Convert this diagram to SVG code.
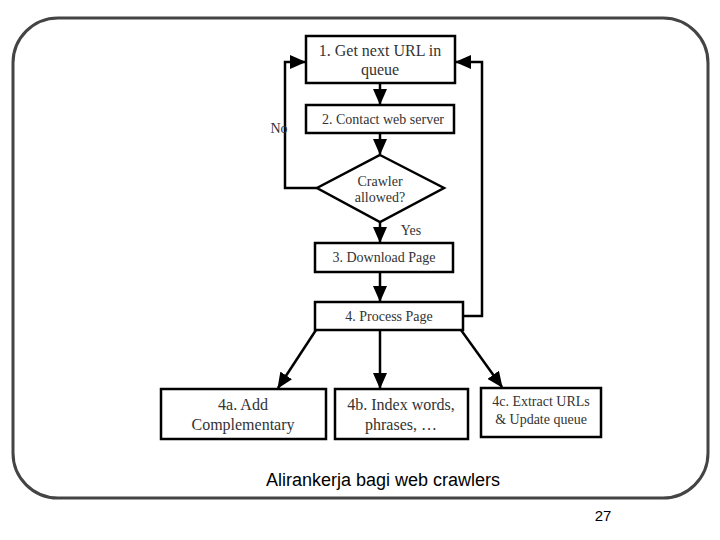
<svg xmlns="http://www.w3.org/2000/svg" width="720" height="540" viewBox="0 0 720 540">
<style>
.b{fill:#fff;stroke:#000;stroke-width:2.5}
.t{font-family:"Liberation Serif",serif;fill:#333;text-anchor:middle}
.c{stroke:#000;stroke-width:2.5;fill:none}
</style>
<defs><marker id="m" markerWidth="16" markerHeight="14" refX="15" refY="7" orient="auto" markerUnits="userSpaceOnUse" viewBox="0 0 16 14"><path d="M0,0L16,7L0,14z" fill="#000"/></marker></defs>
<rect x="13" y="18" width="695" height="480" rx="45" fill="#fff" stroke="#444" stroke-width="3"/>
<g id="connectors">
<path class="c" d="M380,83V104" marker-end="url(#m)"/>
<path class="c" d="M380,133V154" marker-end="url(#m)"/>
<path class="c" d="M380,222V242" marker-end="url(#m)"/>
<path class="c" d="M380,272V301" marker-end="url(#m)"/>
<path class="c" d="M317,188H285V62H305" marker-end="url(#m)"/>
<path class="c" d="M463,316H482V62H456" marker-end="url(#m)"/>
<path class="c" d="M316,330L278,388" marker-end="url(#m)"/>
<path class="c" d="M380,330V388" marker-end="url(#m)"/>
<path class="c" d="M461,330L502,387" marker-end="url(#m)"/>
<text class="t" x="411" y="235" font-size="14">Yes</text>
<text class="t" x="279" y="133" font-size="14">No</text>
</g>
<g id="n1"><rect class="b" x="306" y="36" width="149" height="47"/><text class="t" font-size="16" x="380" y="56">1. Get next URL in</text><text class="t" font-size="16" x="380" y="75">queue</text></g>
<g id="n2"><rect class="b" x="306" y="105" width="148" height="28"/><text class="t" font-size="14" x="383" y="124">2. Contact web server</text></g>
<g id="n3"><polygon class="b" points="380,155 444,188 380,222 317,188"/><text class="t" font-size="14" x="380" y="186">Crawler</text><text class="t" font-size="14" x="380" y="202">allowed?</text></g>
<g id="n4"><rect class="b" x="315" y="243" width="138" height="29"/><text class="t" font-size="14" x="384" y="262">3. Download Page</text></g>
<g id="n5"><rect class="b" x="315" y="302" width="148" height="28"/><text class="t" font-size="14" x="389" y="321">4. Process Page</text></g>
<g id="n6"><rect class="b" x="161" y="389" width="165" height="50"/><text class="t" font-size="16" x="243" y="410">4a. Add</text><text class="t" font-size="16" x="243" y="430">Complementary</text></g>
<g id="n7"><rect class="b" x="335" y="389" width="133" height="50"/><text class="t" font-size="16" x="401" y="410">4b. Index words,</text><text class="t" font-size="16" x="401" y="430">phrases, …</text></g>
<g id="n8"><rect class="b" x="481" y="388" width="120" height="49"/><text class="t" font-size="14" x="541" y="406">4c. Extract URLs</text><text class="t" font-size="14" x="541" y="424">&amp; Update queue</text></g>
<text x="383" y="486" font-family="Liberation Sans,sans-serif" font-size="18" text-anchor="middle">Alirankerja bagi web crawlers</text>
<text x="603" y="521" font-family="Liberation Sans,sans-serif" font-size="15" text-anchor="middle">27</text>
</svg>
